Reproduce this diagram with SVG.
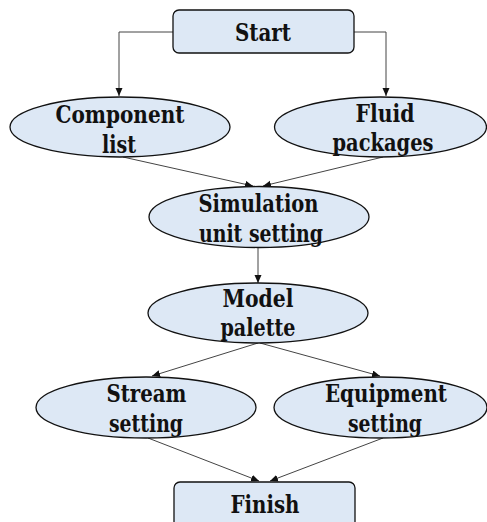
<svg xmlns="http://www.w3.org/2000/svg" width="487" height="522" viewBox="0 0 487 522">
<style>
.node{fill:#dde8f5;stroke:#111;stroke-width:1.3}
.lbl{font-family:'DejaVu Serif',serif;font-weight:700;font-size:24px;fill:#111;text-anchor:middle}
.conn{fill:none;stroke:#444;stroke-width:1}
</style>
<defs>
<marker id="arr" markerUnits="userSpaceOnUse" markerWidth="9" markerHeight="8" refX="8" refY="3.5" orient="auto">
<path d="M0,0 L8,3.5 L0,7 z" fill="#111"/>
</marker>
</defs>
<g id="connectors">
<path class="conn" d="M173,32 H119 V96" marker-end="url(#arr)"/>
<path class="conn" d="M354,32 H386 V96" marker-end="url(#arr)"/>
<path class="conn" d="M123,157 L253,186" marker-end="url(#arr)"/>
<path class="conn" d="M383,157 L263,186" marker-end="url(#arr)"/>
<path class="conn" d="M258,248 L258,283" marker-end="url(#arr)"/>
<path class="conn" d="M258,343 L152,376" marker-end="url(#arr)"/>
<path class="conn" d="M260,343 L380,376" marker-end="url(#arr)"/>
<path class="conn" d="M148,438 L259,481" marker-end="url(#arr)"/>
<path class="conn" d="M383,438 L270,481" marker-end="url(#arr)"/>
</g>
<g id="start">
<rect class="node" x="173" y="10" width="181" height="43" rx="6"/>
<text class="lbl" x="263" y="41" textLength="56" lengthAdjust="spacingAndGlyphs">Start</text>
</g>
<g id="component">
<ellipse class="node" cx="120" cy="127" rx="110" ry="30"/>
<text class="lbl" x="120" y="122.5" textLength="129" lengthAdjust="spacingAndGlyphs">Component</text>
<text class="lbl" x="119" y="153" textLength="34" lengthAdjust="spacingAndGlyphs">list</text>
</g>
<g id="fluid">
<ellipse class="node" cx="380.5" cy="127" rx="106" ry="30"/>
<text class="lbl" x="385" y="121.5" textLength="59" lengthAdjust="spacingAndGlyphs">Fluid</text>
<text class="lbl" x="383" y="151" textLength="101" lengthAdjust="spacingAndGlyphs">packages</text>
</g>
<g id="simulation">
<ellipse class="node" cx="259" cy="217" rx="110" ry="30.5"/>
<text class="lbl" x="258.5" y="212" textLength="120" lengthAdjust="spacingAndGlyphs">Simulation</text>
<text class="lbl" x="261" y="242" textLength="124" lengthAdjust="spacingAndGlyphs">unit setting</text>
</g>
<g id="model">
<ellipse class="node" cx="258" cy="313" rx="110" ry="30"/>
<text class="lbl" x="258" y="307" textLength="71" lengthAdjust="spacingAndGlyphs">Model</text>
<text class="lbl" x="258" y="336" textLength="75" lengthAdjust="spacingAndGlyphs">palette</text>
</g>
<g id="stream">
<ellipse class="node" cx="146" cy="407.5" rx="110" ry="30.5"/>
<text class="lbl" x="146.5" y="402" textLength="80" lengthAdjust="spacingAndGlyphs">Stream</text>
<text class="lbl" x="146" y="432" textLength="74" lengthAdjust="spacingAndGlyphs">setting</text>
</g>
<g id="equipment">
<ellipse class="node" cx="380.5" cy="407.5" rx="106.5" ry="30.5"/>
<text class="lbl" x="386" y="402" textLength="122" lengthAdjust="spacingAndGlyphs">Equipment</text>
<text class="lbl" x="385" y="432" textLength="74" lengthAdjust="spacingAndGlyphs">setting</text>
</g>
<g id="finish">
<rect class="node" x="174" y="482" width="181" height="48" rx="6"/>
<text class="lbl" x="265" y="513" textLength="69" lengthAdjust="spacingAndGlyphs">Finish</text>
</g>
</svg>
